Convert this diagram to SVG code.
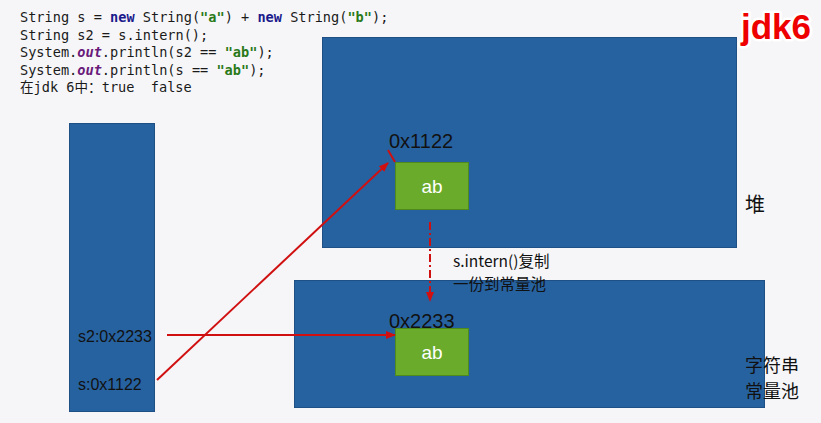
<svg xmlns="http://www.w3.org/2000/svg" width="821" height="423" viewBox="0 0 821 423">
<defs>
<style>
.code{font-family:"DejaVu Sans Mono","Noto Sans CJK SC",monospace;font-size:13.6px;fill:#1a1a1a;white-space:pre}
.kw{fill:#1a1a8c;font-weight:bold}
.str{fill:#2a7a1a;font-weight:bold}
.it{fill:#6a1a7a;font-weight:bold;font-style:italic}
.area{fill:#2762a0;stroke:#1e4f85;stroke-width:1}
.box{fill:#6aab2b;stroke:#4e8a1c;stroke-width:1}
.lbl{font-family:"Liberation Sans","Noto Sans CJK SC",sans-serif;fill:#111}
.ab{font-family:"Liberation Sans",sans-serif;font-size:19px;fill:#fff;text-anchor:middle}
.cn{font-family:"Noto Sans CJK SC","Liberation Sans",sans-serif;fill:#111}
.red{stroke:#d01010;stroke-width:2;fill:none}
</style>
<marker id="ah" markerWidth="10" markerHeight="8" refX="9" refY="4" orient="auto" markerUnits="userSpaceOnUse">
<path d="M0,0 L10,4 L0,8 Z" fill="#d01010"/>
</marker>
</defs>
<rect width="821" height="423" fill="#f6f6f8"/>
<g id="code">
<text class="code" x="20" y="22">String s = <tspan class="kw">new</tspan> String(<tspan class="str">"a"</tspan>) + <tspan class="kw">new</tspan> String(<tspan class="str">"b"</tspan>);</text>
<text class="code" x="20" y="39.5">String s2 = s.intern();</text>
<text class="code" x="20" y="57">System.<tspan class="it">out</tspan>.println(s2 == <tspan class="str">"ab"</tspan>);</text>
<text class="code" x="20" y="74.5">System.<tspan class="it">out</tspan>.println(s == <tspan class="str">"ab"</tspan>);</text>
<text class="code" x="20" y="92" xml:space="preserve">在jdk 6中：true  false</text>
</g>
<g id="title">
<text x="741" y="39" font-family="Liberation Sans,sans-serif" font-weight="bold" font-size="35" fill="#ee0000" stroke="#ffffff" stroke-width="5" paint-order="stroke" stroke-linejoin="round">jdk6</text>
</g>
<g id="stack">
<rect class="area" x="69.5" y="123.5" width="85" height="288"/>
<text class="lbl" x="78" y="342" font-size="16">s2:0x2233</text>
<text class="lbl" x="78" y="390" font-size="16">s:0x1122</text>
</g>
<g id="heap">
<rect class="area" x="322.5" y="37.5" width="414" height="210"/>
<text class="lbl" x="389" y="148" font-size="20">0x1122</text>
<text class="cn" x="745" y="212" font-size="20">堆</text>
</g>
<g id="heap-ab">
<rect class="box" x="395.5" y="162.5" width="73" height="47"/>
<text class="ab" x="432" y="193">ab</text>
</g>
<g id="pool">
<rect class="area" x="294.5" y="280.5" width="470" height="127"/>
<text class="lbl" x="389" y="328" font-size="20">0x2233</text>
<text class="cn" x="745" y="372" font-size="18">字符串</text>
<text class="cn" x="745" y="398" font-size="18">常量池</text>
</g>
<g id="pool-ab">
<rect class="box" x="395.5" y="328.5" width="73" height="47"/>
<text class="ab" x="432" y="359">ab</text>
</g>
<g id="note">
<rect x="322" y="249" width="415" height="30" fill="#f6f6f8"/>
<text class="cn" x="453" y="267" font-size="15.5">s.intern()复制</text>
<text class="cn" x="453" y="289.5" font-size="15.5">一份到常量池</text>
</g>
<g id="connectors">
<line class="red" x1="157" y1="380" x2="388" y2="163" marker-end="url(#ah)"/>
<line class="red" x1="388" y1="150" x2="395" y2="162"/>
<line class="red" x1="167" y1="335" x2="395" y2="335" marker-end="url(#ah)"/>
<line class="red" x1="430" y1="222" x2="430" y2="301" stroke-dasharray="8,3,2,3" marker-end="url(#ah)"/>
</g>
</svg>
